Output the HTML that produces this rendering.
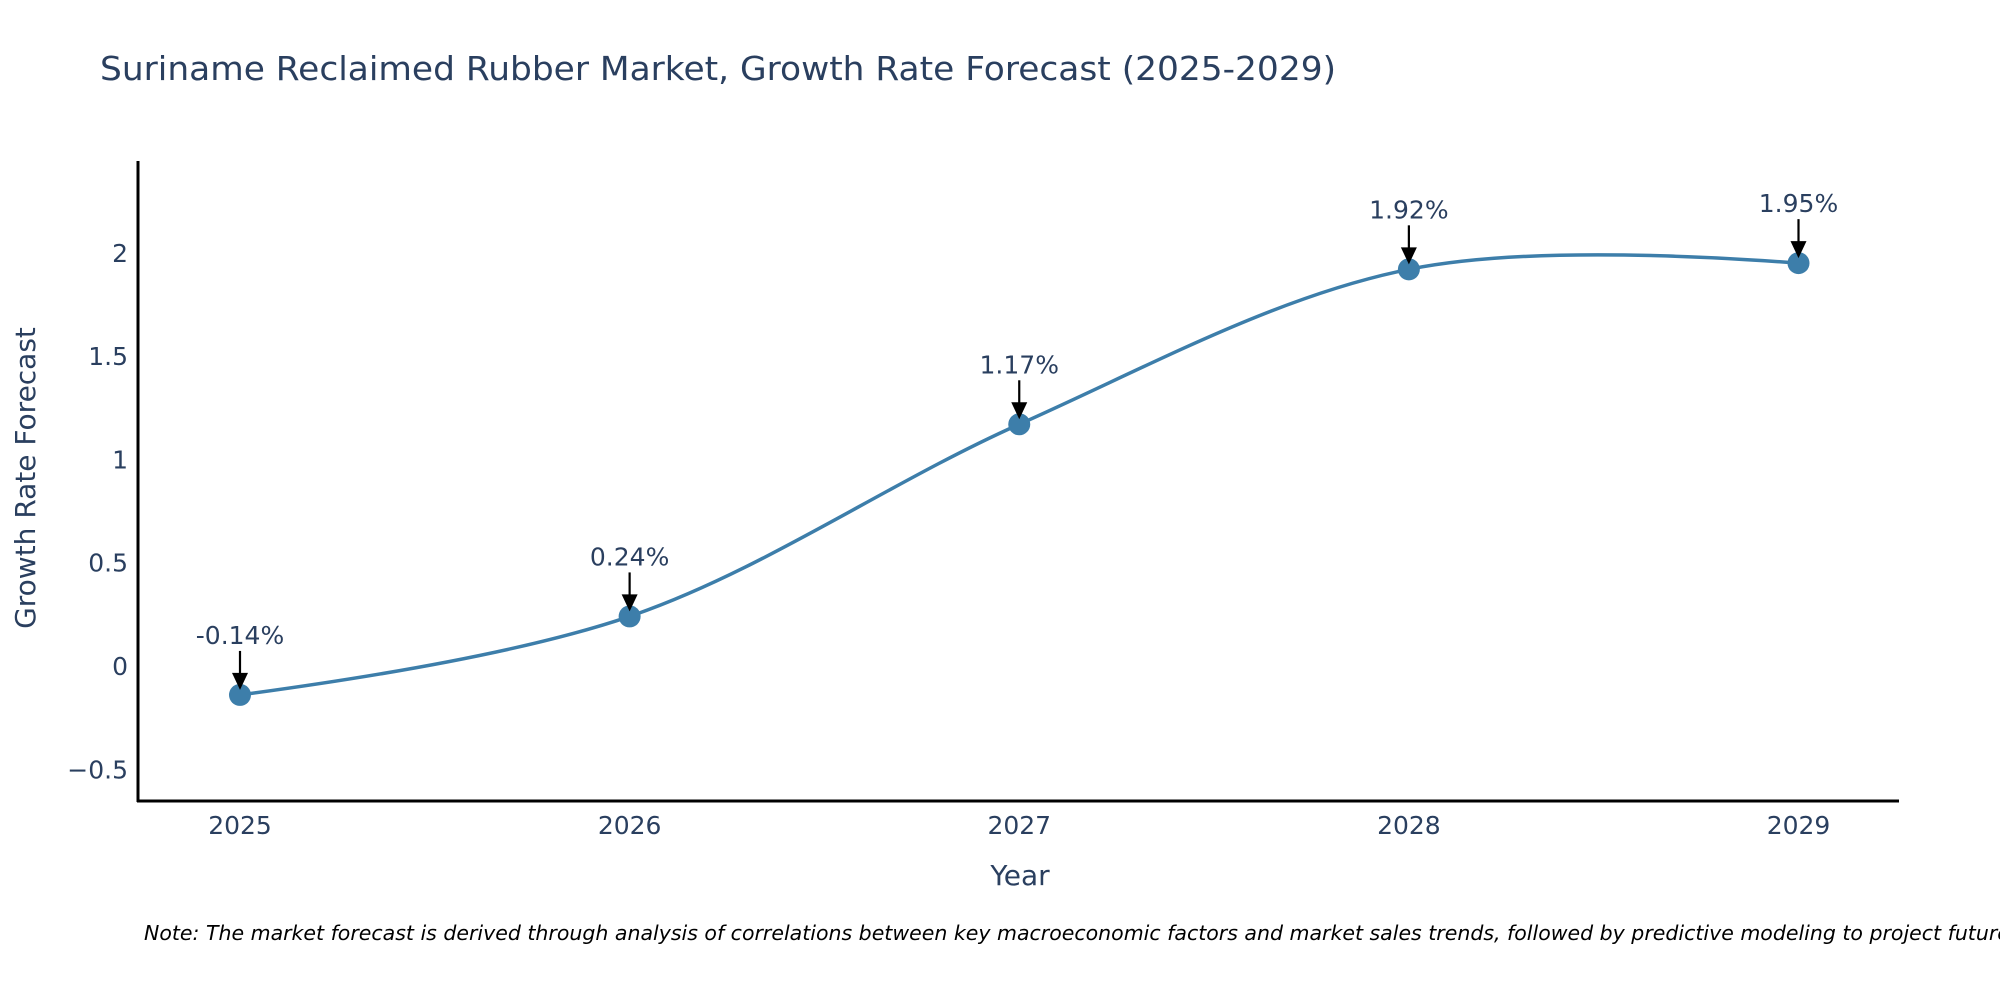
<!DOCTYPE html>
<html><head><meta charset="utf-8"><style>
html,body{margin:0;padding:0;background:#fff;width:2000px;height:1000px;overflow:hidden}
svg{display:block}
text{font-family:"DejaVu Sans","Liberation Sans",sans-serif;fill:#2a3f5f}
</style></head><body>
<svg id="chart" width="2000" height="1000" viewBox="0 0 2000 1000" xmlns="http://www.w3.org/2000/svg">
<text x="100" y="80" font-size="33" textLength="1236" lengthAdjust="spacingAndGlyphs">Suriname Reclaimed Rubber Market, Growth Rate Forecast (2025-2029)</text>
<g id="yticks"></g>
<g id="xticks"></g>
<line x1="138" y1="161" x2="138" y2="802" stroke="#000" stroke-width="3"/>
<line x1="137" y1="801" x2="1899" y2="801" stroke="#000" stroke-width="3"/>
<text x="1020" y="885" font-size="28" text-anchor="middle">Year</text>
<text x="0" y="0" font-size="28" text-anchor="middle" transform="translate(35,478) rotate(-90)">Growth Rate Forecast</text>
<g id="series"></g>
<g id="annots"></g>
<text x="144" y="940" font-size="20.5" font-style="italic" style="fill:#000">Note: The market forecast is derived through analysis of correlations between key macroeconomic factors and market sales trends, followed by predictive modeling to project future sales.</text>
</svg>
<script>
const years = [2025, 2026, 2027, 2028, 2029];
const growth = [-0.14, 0.24, 1.17, 1.92, 1.95];
const labels = ["-0.14%", "0.24%", "1.17%", "1.92%", "1.95%"];
const yTickValues = [-0.5, 0, 0.5, 1, 1.5, 2];
const yTickLabels = ["\u22120.5", "0", "0.5", "1", "1.5", "2"];

const NS = "http://www.w3.org/2000/svg";
const xScale = v => 240 + (v - 2025) * (1798.5 - 240) / 4;
const yScale = v => 666 - v * 206.6;

function mk(tag, attrs, parent) {
  const e = document.createElementNS(NS, tag);
  for (const k in attrs) e.setAttribute(k, attrs[k]);
  parent.appendChild(e);
  return e;
}

const yt = document.getElementById('yticks');
yTickValues.forEach((v, i) => {
  const t = mk('text', {x: 128, y: yScale(v) + 9, 'font-size': 25, 'text-anchor': 'end'}, yt);
  
  
  t.textContent = yTickLabels[i];
});
const xt = document.getElementById('xticks');
years.forEach(y => {
  const t = mk('text', {x: xScale(y), y: 834, 'font-size': 25, 'text-anchor': 'middle'}, xt);
  
  
  t.textContent = String(y);
});

const pts = years.map((y, i) => [xScale(y), yScale(growth[i])]);
function tangent(p0, p1, p2, s) {
  const d1x = p0[0]-p1[0], d1y = p0[1]-p1[1], d2x = p2[0]-p1[0], d2y = p2[1]-p1[1];
  const d1a = Math.pow(d1x*d1x + d1y*d1y, 0.25), d2a = Math.pow(d2x*d2x + d2y*d2y, 0.25);
  const nx = (d2a*d2a*d1x - d1a*d1a*d2x) * s, ny = (d2a*d2a*d1y - d1a*d1a*d2y) * s;
  const de1 = 3*d2a*(d1a+d2a), de2 = 3*d1a*(d1a+d2a);
  return [[p1[0] + nx/de1, p1[1] + ny/de1], [p1[0] - nx/de2, p1[1] - ny/de2]];
}
const tg = [];
for (let i = 1; i < pts.length - 1; i++) tg.push(tangent(pts[i-1], pts[i], pts[i+1], 1));
let d = 'M' + pts[0] + 'Q' + tg[0][0] + ' ' + pts[1];
for (let i = 2; i < pts.length - 1; i++) d += 'C' + tg[i-2][1] + ' ' + tg[i-1][0] + ' ' + pts[i];
d += 'Q' + tg[pts.length-3][1] + ' ' + pts[pts.length-1];
const series = document.getElementById('series');
const line = mk('path', {d: d, fill: 'none', stroke: '#3d7eaa', 'stroke-width': 3.5}, series);


pts.forEach(p => {
  const c = mk('circle', {cx: p[0], cy: p[1], r: 11, fill: '#3d7eaa'}, series);
  
  
});

const an = document.getElementById('annots');
pts.forEach((p, i) => {
  const g = mk('g', {}, an);
  
  
  mk('line', {x1: p[0], y1: p[1] - 44, x2: p[0], y2: p[1] - 20, stroke: '#000', 'stroke-width': 2.2}, g);
  mk('polygon', {points: (p[0]-8)+','+(p[1]-22)+' '+(p[0]+8)+','+(p[1]-22)+' '+p[0]+','+(p[1]-5), fill: '#000'}, g);
  const t = mk('text', {x: p[0], y: p[1] - 51, 'font-size': 25, 'text-anchor': 'middle'}, g);
  t.textContent = labels[i];
});
</script>
</body></html>
